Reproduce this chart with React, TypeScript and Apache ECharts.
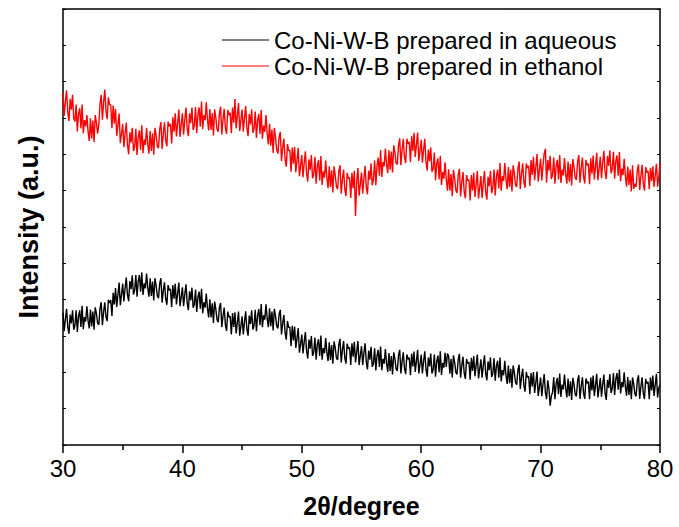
import React, { useEffect, useRef } from "react";
import * as echarts from "echarts";

// 2θ sampling grid: 30.0 .. 80.0 in steps of 0.1 degree
const START_ANGLE = 30;
const STEP = 0.1;

const seriesNames = ["Co-Ni-W-B prepared in aqueous", "Co-Ni-W-B prepared in ethanol"];

// intensity (a.u.), one row per degree (x.0 .. x.9), final value at 80.0
const ethanol = [
  968, 906, 945, 976, 916, 892, 953, 923, 964, 899,
  890, 937, 863, 911, 927, 871, 937, 858, 894, 877,
  908, 863, 837, 899, 844, 893, 834, 908, 887, 857,
  882, 939, 964, 895, 942, 978, 920, 897, 957, 937,
  936, 872, 934, 884, 925, 851, 881, 912, 831, 857,
  883, 820, 857, 887, 825, 800, 861, 832, 873, 809,
  821, 870, 798, 848, 866, 812, 880, 803, 841, 826,
  873, 828, 802, 864, 809, 858, 799, 873, 852, 822,
  817, 869, 889, 815, 857, 888, 838, 822, 890, 877,
  884, 830, 902, 862, 913, 849, 885, 923, 848, 881,
  913, 854, 895, 929, 871, 850, 913, 886, 929, 867,
  880, 930, 859, 910, 929, 876, 945, 869, 908, 894,
  943, 895, 866, 925, 867, 913, 852, 924, 901, 869,
  862, 912, 931, 855, 896, 925, 873, 856, 922, 908,
  914, 858, 929, 887, 952, 871, 906, 941, 864, 894,
  923, 862, 901, 933, 873, 850, 911, 882, 923, 859,
  870, 918, 845, 894, 911, 856, 922, 843, 879, 862,
  908, 858, 827, 884, 824, 868, 804, 873, 847, 812,
  802, 848, 862, 782, 818, 843, 787, 766, 828, 810,
  811, 752, 819, 774, 820, 751, 784, 818, 740, 769,
  798, 737, 776, 808, 748, 725, 786, 757, 798, 734,
  745, 793, 719, 768, 784, 728, 795, 716, 753, 736,
  783, 736, 707, 767, 710, 756, 695, 767, 743, 711,
  704, 753, 770, 692, 731, 758, 704, 685, 749, 733,
  736, 680, 749, 707, 755, 630, 725, 762, 686, 718,
  750, 692, 733, 768, 710, 690, 755, 730, 775, 715,
  730, 783, 715, 769, 791, 741, 812, 738, 779, 767,
  816, 772, 748, 811, 758, 808, 750, 825, 805, 776,
  772, 824, 844, 770, 812, 843, 792, 776, 843, 829,
  834, 779, 850, 809, 859, 793, 826, 860, 782, 811,
  840, 777, 813, 843, 780, 755, 813, 781, 819, 752,
  760, 805, 729, 775, 789, 731, 796, 716, 751, 733,
  778, 730, 700, 759, 700, 746, 685, 757, 733, 701,
  694, 743, 760, 684, 723, 751, 697, 679, 743, 727,
  730, 673, 743, 700, 749, 683, 718, 754, 678, 709,
  740, 680, 721, 754, 696, 675, 738, 712, 755, 693,
  707, 758, 687, 739, 758, 706, 776, 700, 740, 727,
  776, 730, 704, 765, 710, 758, 698, 770, 748, 716,
  710, 761, 780, 705, 746, 775, 724, 708, 775, 762,
  768, 713, 784, 743, 793, 729, 764, 801, 725, 757,
  788, 728, 769, 802, 815, 722, 784, 755, 796, 732,
  743, 791, 719, 768, 785, 731, 798, 721, 758, 742,
  790, 745, 719, 780, 725, 773, 714, 787, 765, 735,
  730, 780, 798, 722, 762, 791, 738, 720, 785, 770,
  774, 718, 789, 747, 797, 731, 767, 804, 729, 761,
  793, 734, 776, 810, 752, 732, 795, 768, 811, 748,
  760, 807, 733, 781, 797, 741, 806, 726, 761, 743,
  788, 740, 711, 766, 716, 758, 698, 770, 705, 719,
  710, 757, 772, 702, 741, 771, 718, 700, 765, 750,
  754, 704, 763, 727, 767, 710, 741, 774, 711, 739,
  775,
];

const aqueous = [
  364, 313, 347, 375, 325, 306, 359, 335, 371, 317,
  329, 371, 311, 354, 371, 325, 383, 319, 352, 340,
  382, 343, 321, 373, 326, 367, 317, 379, 362, 335,
  331, 376, 393, 330, 366, 393, 352, 341, 400, 391,
  399, 355, 419, 387, 432, 380, 413, 447, 385, 414,
  444, 395, 431, 461, 413, 396, 451, 429, 467, 414,
  425, 468, 408, 451, 468, 422, 475, 413, 445, 431,
  472, 432, 408, 459, 410, 450, 398, 459, 439, 411,
  404, 445, 459, 392, 425, 448, 402, 386, 440, 426,
  429, 380, 440, 403, 444, 387, 417, 447, 382, 407,
  434, 382, 415, 442, 391, 371, 423, 398, 433, 378,
  387, 428, 366, 407, 422, 375, 430, 363, 393, 378,
  417, 376, 351, 401, 351, 390, 336, 395, 374, 345,
  338, 379, 391, 324, 355, 378, 331, 314, 367, 352,
  354, 304, 363, 325, 365, 307, 336, 367, 301, 327,
  354, 304, 339, 368, 319, 301, 356, 333, 371, 318,
  329, 372, 313, 356, 374, 330, 388, 324, 357, 345,
  387, 348, 324, 376, 327, 367, 315, 375, 355, 327,
  321, 361, 372, 304, 335, 358, 309, 290, 341, 324,
  324, 272, 328, 288, 326, 267, 294, 322, 254, 278,
  304, 252, 284, 311, 259, 238, 290, 265, 300, 245,
  255, 296, 235, 276, 291, 245, 301, 235, 267, 253,
  294, 255, 231, 283, 234, 275, 224, 285, 267, 239,
  234, 277, 292, 227, 261, 286, 240, 224, 279, 265,
  269, 220, 280, 243, 284, 227, 256, 286, 220, 246,
  272, 220, 253, 280, 229, 208, 260, 235, 270, 215,
  225, 266, 205, 246, 262, 215, 271, 206, 237, 224,
  264, 225, 201, 253, 204, 245, 194, 255, 237, 209,
  204, 247, 262, 197, 230, 255, 210, 195, 249, 236,
  240, 192, 252, 216, 257, 201, 231, 262, 197, 222,
  249, 197, 231, 258, 208, 188, 241, 216, 252, 197,
  207, 249, 188, 230, 246, 200, 258, 193, 226, 213,
  254, 215, 252, 244, 196, 237, 186, 247, 228, 200,
  194, 236, 251, 185, 219, 243, 198, 182, 237, 224,
  228, 180, 240, 204, 245, 189, 219, 249, 183, 209,
  236, 185, 219, 247, 197, 178, 230, 206, 241, 187,
  197, 239, 177, 218, 232, 185, 241, 175, 206, 192,
  232, 192, 168, 219, 170, 210, 158, 219, 200, 172,
  166, 207, 221, 154, 187, 210, 164, 147, 201, 186,
  189, 140, 198, 161, 201, 143, 172, 202, 135, 160,
  186, 134, 168, 195, 145, 126, 178, 154, 108, 135,
  145, 187, 126, 169, 185, 140, 197, 132, 166, 153,
  194, 155, 131, 183, 134, 175, 124, 185, 166, 139,
  134, 177, 192, 127, 161, 186, 142, 127, 183, 170,
  174, 126, 186, 150, 191, 135, 165, 196, 131, 157,
  184, 133, 166, 194, 143, 124, 179, 157, 195, 143,
  155, 198, 138, 181, 198, 152, 208, 142, 173, 159,
  200, 160, 136, 187, 138, 178, 126, 186, 167, 140,
  134, 177, 192, 127, 161, 186, 142, 126, 182, 169,
  174, 126, 186, 150, 191, 135, 165, 196, 131, 157,
  165,
];

const xTicks = { min: 30, max: 80, interval: 10 };
const yRange = { min: 0, max: 1200, interval: 100 };

function pairs(values: number[]): [number, number][] {
  return values.map((v, i) => [Number((START_ANGLE + i * STEP).toFixed(1)), v]);
}

export default function App() {
  const ref = useRef<HTMLDivElement>(null);

  useEffect(() => {
    if (!ref.current) return;
    const chart = echarts.init(ref.current, null, { renderer: "svg" });
    const axisColor = "#000";
    const font = "Liberation Sans, Arial, sans-serif";
    chart.setOption({
      animation: false,
      backgroundColor: "#fff",
      grid: { left: 63, right: 19, top: 9, bottom: 82, containLabel: false },
      legend: {
        orient: "vertical",
        left: 217,
        top: 22,
        icon: "rect",
        itemWidth: 47,
        itemHeight: 1.2,
        itemGap: 0,
        textStyle: { fontFamily: font, fontSize: 24, color: "#000", lineHeight: 26 },
        data: seriesNames,
      },
      xAxis: [
        {
          type: "value",
          min: xTicks.min,
          max: xTicks.max,
          interval: xTicks.interval,
          name: "2θ/degree",
          nameLocation: "middle",
          nameGap: 48,
          nameTextStyle: { fontFamily: font, fontSize: 25, fontWeight: "bold", color: "#000" },
          axisLine: { show: true, onZero: false, lineStyle: { color: axisColor, width: 1.5 } },
          axisTick: { show: true, inside: false, length: 8, lineStyle: { color: axisColor, width: 1.5 } },
          minorTick: { show: true, splitNumber: 2, length: 5, lineStyle: { color: axisColor, width: 1.5 } },
          axisLabel: { fontFamily: font, fontSize: 24, color: "#000", margin: 11 },
          splitLine: { show: false },
        },
        {
          type: "value",
          position: "top",
          min: xTicks.min,
          max: xTicks.max,
          interval: xTicks.interval,
          axisLine: { show: true, onZero: false, lineStyle: { color: axisColor, width: 1.5 } },
          axisTick: { show: false },
          axisLabel: { show: false },
          splitLine: { show: false },
        },
      ],
      yAxis: [
        {
          type: "value",
          min: yRange.min,
          max: yRange.max,
          interval: yRange.interval,
          name: "Intensity (a.u.)",
          nameLocation: "middle",
          nameGap: 21,
          nameTextStyle: { fontFamily: font, fontSize: 27, fontWeight: "bold", color: "#000" },
          axisLine: { show: true, onZero: false, lineStyle: { color: axisColor, width: 1.5 } },
          axisTick: { show: true, inside: true, length: 3, lineStyle: { color: axisColor, width: 1 } },
          axisLabel: { show: false },
          splitLine: { show: false },
        },
        {
          type: "value",
          position: "right",
          min: yRange.min,
          max: yRange.max,
          interval: yRange.interval,
          axisLine: { show: true, onZero: false, lineStyle: { color: axisColor, width: 1.5 } },
          axisTick: { show: true, inside: true, length: 3, lineStyle: { color: axisColor, width: 1 } },
          axisLabel: { show: false },
          splitLine: { show: false },
        },
      ],
      series: [
        {
          name: seriesNames[0],
          type: "line",
          symbol: "none",
          data: pairs(aqueous),
          lineStyle: { color: "#000", width: 1.4 },
          itemStyle: { color: "#000" },
        },
        {
          name: seriesNames[1],
          type: "line",
          symbol: "none",
          data: pairs(ethanol),
          lineStyle: { color: "#ff0000", width: 1.4 },
          itemStyle: { color: "#ff0000" },
        },
      ],
    });
    return () => chart.dispose();
  }, []);

  return (
    <div
      ref={ref}
      style={{ position: "fixed", left: 0, top: 0, width: 679, height: 527, background: "#fff" }}
    />
  );
}
